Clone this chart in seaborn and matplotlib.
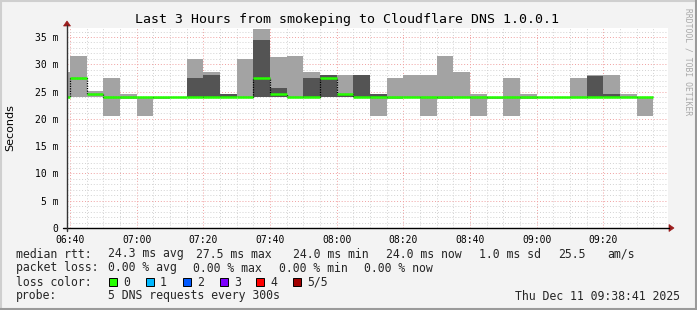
import numpy as np
import pandas as pd
import matplotlib
matplotlib.use("Agg")
import matplotlib.pyplot as plt
import seaborn as sns
from matplotlib.patches import Rectangle, Polygon
from matplotlib.lines import Line2D

# ---------------- data ----------------
first_interval = "2025-12-11 06:35"
axis_origin = "2025-12-11 06:40"
interval = "5min"

# per 5-minute interval (ms): min ping, max ping, inner (darker) band, median
ping_min = [24.0, 24.0, 24.0, 20.5, 23.6, 20.5, 23.6, 24.0, 24.0, 24.0, 24.0, 24.0,
            24.0, 24.0, 24.0, 24.0, 24.0, 24.0, 24.0, 20.5, 23.6, 24.0, 20.5, 23.6,
            24.0, 20.5, 23.6, 20.5, 23.6, 24.0, 24.0, 24.0, 24.0, 24.0, 24.0, 20.5]
ping_max = [28.6, 31.5, 25.1, 27.5, 24.5, 24.0, 24.0, 24.0, 31.0, 28.6, 24.5, 31.0,
            36.4, 31.3, 31.5, 28.6, 28.0, 28.0, 28.0, 24.5, 27.5, 28.0, 28.0, 31.5,
            28.6, 24.5, 24.0, 27.5, 24.5, 24.0, 24.0, 27.5, 28.0, 28.0, 24.5, 24.0]
nan = np.nan
inner_lo = [nan, nan, nan, nan, nan, nan, nan, nan, 24.0, 24.0, 24.0, nan,
            24.0, 24.0, nan, 24.0, 24.0, 24.0, 24.0, 24.0, nan, nan, nan, nan,
            nan, nan, nan, nan, nan, nan, nan, nan, 24.0, 24.0, nan, nan]
inner_hi = [nan, nan, nan, nan, nan, nan, nan, nan, 27.5, 28.0, 24.5, nan,
            34.4, 25.7, nan, 27.5, 28.0, 24.5, 28.0, 24.5, nan, nan, nan, nan,
            nan, nan, nan, nan, nan, nan, nan, nan, 27.8, 24.5, nan, nan]
median = [24.0, 27.5, 24.5, 24.0, 24.0, 24.0, 24.0, 24.0, 24.0, 24.0, 24.0, 24.0,
          27.5, 24.5, 24.0, 24.0, 27.5, 24.5, 24.0, 24.0, 24.0, 24.0, 24.0, 24.0,
          24.0, 24.0, 24.0, 24.0, 24.0, 24.0, 24.0, 24.0, 24.0, 24.0, 24.0, 24.0]

xtick_labels = ["06:40", "07:00", "07:20", "07:40", "08:00", "08:20", "08:40", "09:00", "09:20"]
ytick_values = [0, 5, 10, 15, 20, 25, 30, 35]
ytick_labels = ["0", "5 m", "10 m", "15 m", "20 m", "25 m", "30 m", "35 m"]

title = "Last 3 Hours from smokeping to Cloudflare DNS 1.0.0.1"
ylabel = "Seconds"
watermark = "RRDTOOL / TOBI OETIKER"
row_rtt = ["median rtt:", "24.3 ms avg", "27.5 ms max", "24.0 ms min", "24.0 ms now",
           "1.0 ms sd", "25.5", "am/s"]
row_loss = ["packet loss:", "0.00 % avg", "0.00 % max", "0.00 % min", "0.00 % now"]
loss_names = ["0", "1", "2", "3", "4", "5/5"]
loss_colors = ["#26ff00", "#00b8ff", "#0059ff", "#7e00ff", "#ff0000", "#a10000"]
probe_label = "probe:"
probe_text = "5 DNS requests every 300s"
stamp = "Thu Dec 11 09:38:41 2025"

# ---------------- build table ----------------
times = pd.date_range(first_interval, periods=len(ping_min), freq=interval)
origin = pd.Timestamp(axis_origin)
df = pd.DataFrame({
    "t": (times - origin).total_seconds() / 60.0,
    "lo": ping_min, "hi": ping_max,
    "ilo": inner_lo, "ihi": inner_hi, "med": median,
})
width = pd.Timedelta(interval).total_seconds() / 60.0
xt = [(pd.Timestamp("2025-12-11 " + s) - origin).total_seconds() / 60.0 for s in xtick_labels]

# ---------------- style ----------------
sns.set_theme(style="white")
plt.rcParams["font.family"] = ["DejaVu Sans Mono", "DejaVu Sans"]

W, H = 697, 310
BG = "#f3f3f3"
fig = plt.figure(figsize=(W / 100, H / 100), dpi=100, facecolor=BG)

def fx(x):
    return x / W

def fy(y):
    return 1 - y / H

ax_left, ax_right, ax_top, ax_bot = 67, 668, 28, 228
ax = fig.add_axes([fx(ax_left), fy(ax_bot), (ax_right - ax_left) / W, (ax_bot - ax_top) / H])
ax.set_facecolor("white")
px_per_min = 20 / 6.0 * 1.0  # 3.333 px per minute
ax.set_xlim(-(70 - ax_left) / px_per_min, (ax_right - 70) / px_per_min)
ax.set_ylim(0, 36.65)
for s in ax.spines.values():
    s.set_visible(False)

# grid
ax.set_xticks(xt)
ax.set_xticklabels(xtick_labels)
ax.set_xticks(np.arange(5, 180, 5), minor=True)
ax.set_yticks(ytick_values)
ax.set_yticklabels(ytick_labels)
ax.set_yticks(np.arange(1, 37, 1), minor=True)
ax.grid(which="minor", color="#d2d2d2", linestyle=(0, (1, 2)), linewidth=0.7)
ax.grid(which="major", color="#f0a0a0", linestyle=(0, (1, 2)), linewidth=0.7)
ax.set_axisbelow(True)
ax.tick_params(axis="both", which="major", direction="inout", length=4, width=0.7,
               color="#333333", labelsize=7, labelcolor="black", pad=2)
ax.tick_params(axis="y", which="major", pad=4)
ax.tick_params(axis="both", which="minor", direction="inout", length=2, width=0.6,
               color="#555555")
ax.tick_params(axis="x", which="major", pad=3)

# smoke: outer (light) and inner (dark) bands
ax.bar(df["t"], df["hi"] - df["lo"], bottom=df["lo"], width=width, align="edge",
       color="#a3a3a3", linewidth=0, zorder=2)
dk = df.dropna(subset=["ilo"])
ax.bar(dk["t"], dk["ihi"] - dk["ilo"], bottom=dk["ilo"], width=width, align="edge",
       color="#545454", linewidth=0, zorder=2.5)

# median: dotted step connectors (seaborn) + green level segments
step = pd.DataFrame({"t": list(df["t"]) + [df["t"].iloc[-1] + width],
                     "med": list(df["med"]) + [df["med"].iloc[-1]]})
sns.lineplot(data=step, x="t", y="med", drawstyle="steps-post", color="black",
             linestyle=(0, (1, 1)), linewidth=0.9, estimator=None, legend=False,
             ax=ax, zorder=3)
ax.hlines(df["med"], df["t"], df["t"] + width, color="#26ff00", linewidth=1.8, zorder=4)
ax.set_xlabel("")
ax.set_ylabel("")

# axis lines with arrows
fig.add_artist(Line2D([fx(63), fx(669)], [fy(228), fy(228)], color="black", lw=1.0))
fig.add_artist(Line2D([fx(67), fx(67)], [fy(231), fy(25)], color="#333333", lw=1.0))
fig.add_artist(Polygon([[fx(669), fy(224.5)], [fx(669), fy(231.5)], [fx(674), fy(228)]],
                       closed=True, facecolor="#9b1c1c", edgecolor="#9b1c1c", lw=0.5))
fig.add_artist(Polygon([[fx(63.5), fy(26)], [fx(70.5), fy(26)], [fx(67), fy(21)]],
                       closed=True, facecolor="#9b1c1c", edgecolor="#9b1c1c", lw=0.5))

# texts
fig.text(fx(347), fy(19), title, ha="center", va="center", fontsize=9.5, color="black")
fig.text(fx(10), fy(128), ylabel, rotation=90, ha="center", va="center", fontsize=8,
         family="DejaVu Sans", color="black")
fig.text(fx(688), fy(62), watermark, rotation=270, ha="center", va="center",
         fontsize=5.8, color="#a8a8a8")

fs = 8.3
rtt_x = [16, 107.6, 196, 293, 386, 479, 558, 607]
for s, x in zip(row_rtt, rtt_x):
    fig.text(fx(x), fy(254), s, ha="left", va="center", fontsize=fs)
loss_x = [16, 107.6, 193, 279, 364]
for s, x in zip(row_loss, loss_x):
    fig.text(fx(x), fy(268), s, ha="left", va="center", fontsize=fs)
fig.text(fx(16), fy(282), "loss color:", ha="left", va="center", fontsize=fs)
sq_x = [109, 146, 183, 220, 256, 293]
for name, col, x in zip(loss_names, loss_colors, sq_x):
    fig.add_artist(Rectangle((fx(x), fy(286)), 8 / W, 8 / H, facecolor=col,
                             edgecolor="black", lw=0.7))
    fig.text(fx(x + 14), fy(282), name, ha="left", va="center", fontsize=fs)
fig.text(fx(16), fy(296), probe_label, ha="left", va="center", fontsize=fs)
fig.text(fx(107.6), fy(296), probe_text, ha="left", va="center", fontsize=fs)
fig.text(fx(680), fy(296), stamp, ha="right", va="center", fontsize=fs)

# outer 3D frame
fig.add_artist(Line2D([0, 1], [fy(0.5), fy(0.5)], color="#cfcfcf", lw=1.5))
fig.add_artist(Line2D([fx(0.5), fx(0.5)], [0, 1], color="#cfcfcf", lw=1.5))
fig.add_artist(Line2D([0, 1], [fy(309), fy(309)], color="#9a9a9a", lw=1.5))
fig.add_artist(Line2D([fx(696), fx(696)], [0, 1], color="#9a9a9a", lw=1.5))

fig.savefig("out.png", dpi=100, facecolor=BG)
